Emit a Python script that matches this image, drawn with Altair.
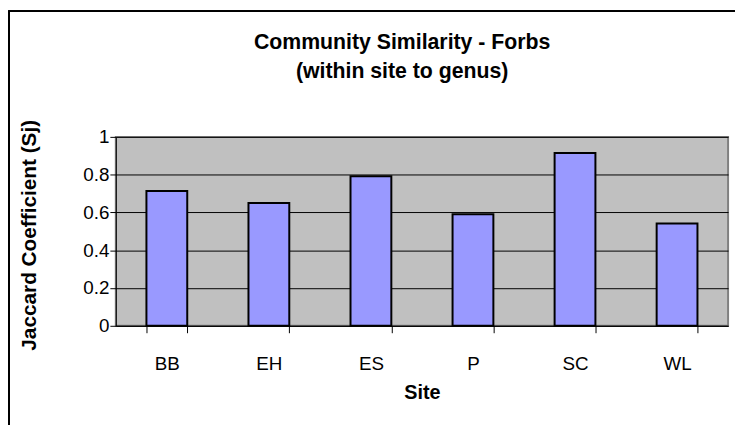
import altair as alt
import pandas as pd

sites = ["BB", "EH", "ES", "P", "SC", "WL"]
jaccard = [0.713, 0.650, 0.792, 0.591, 0.915, 0.542]

df = pd.DataFrame({"Site": sites, "Sj": jaccard})

FONT = "Liberation Sans"

bars = alt.Chart(df).mark_bar(
    fill="#9999FF", stroke="black", strokeWidth=2
).encode(
    x=alt.X("Site:N", sort=sites,
            scale=alt.Scale(paddingInner=0.6, paddingOuter=0.3),
            axis=alt.Axis(title="Site", labelAngle=0, tickBand="extent",
                          labelFont=FONT, labelFontSize=19, labelColor="black",
                          labelPadding=22, tickSize=7, tickColor="black",
                          domainColor="black", titleFont=FONT, titleFontSize=20,
                          titleFontWeight="bold", titleColor="black",
                          titleBaseline="middle", titleY=68)),
    y=alt.Y("Sj:Q", scale=alt.Scale(domain=[0, 1], nice=False),
            axis=alt.Axis(title="Jaccard Coefficient (Sj)", values=[0, 0.2, 0.4, 0.6, 0.8, 1],
                          format="~g", labelFont=FONT, labelFontSize=19,
                          labelColor="black", labelPadding=1, tickSize=6,
                          tickColor="black", domainColor="black",
                          grid=True, gridColor="black", gridWidth=1,
                          titleFont=FONT, titleFontSize=21, titleFontWeight="bold",
                          titleColor="black", titleAngle=-90, titleAlign="center",
                          titleBaseline="middle", titleX=-87, titleY=99)),
)

frame = alt.Chart(df).mark_rect(
    fill=None, stroke="black", strokeWidth=1.5, clip=False
).encode(
    x=alt.value(-108), x2=alt.value(700),
    y=alt.value(-127), y2=alt.value(400)
)

chart = alt.layer(frame, bars).properties(
    width=619, height=191,
    title=alt.Title(["Community Similarity - Forbs", "(within site to genus)"],
                    font=FONT, fontSize=21.5, fontWeight="bold", color="black",
                    anchor="middle", dx=-20, offset=-73, lineHeight=30),
    autosize=alt.AutoSizeParams(type="none"),
    padding={"left": 109, "top": 128, "right": 7, "bottom": 98},
    background="white",
).configure_view(
    fill="#C0C0C0", stroke="#808080", strokeWidth=2
)

chart.save("out.html", embed_options={"renderer": "svg", "actions": False})
